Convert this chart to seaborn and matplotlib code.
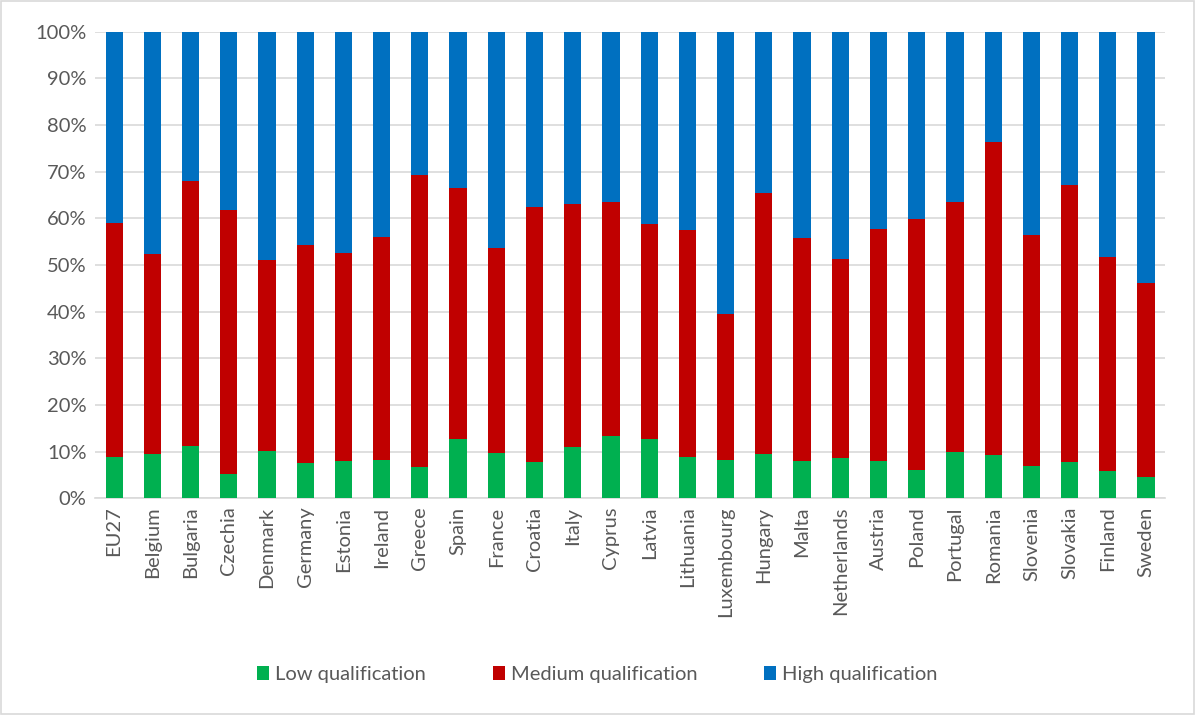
import numpy as np
import pandas as pd
import matplotlib
matplotlib.use("Agg")
import matplotlib.pyplot as plt
import seaborn as sns
from matplotlib.patches import Patch, Rectangle

countries = ["EU27", "Belgium", "Bulgaria", "Czechia", "Denmark", "Germany", "Estonia",
             "Ireland", "Greece", "Spain", "France", "Croatia", "Italy", "Cyprus", "Latvia",
             "Lithuania", "Luxembourg", "Hungary", "Malta", "Netherlands", "Austria", "Poland",
             "Portugal", "Romania", "Slovenia", "Slovakia", "Finland", "Sweden"]
low = [8.9, 9.5, 11.3, 5.3, 10.2, 7.6, 8.0, 8.3, 6.7, 12.7, 9.7, 7.8, 11.0, 13.4, 12.7,
       8.9, 8.2, 9.6, 8.0, 8.6, 8.0, 6.0, 9.9, 9.3, 7.0, 7.7, 5.9, 4.5]
medium = [50.2, 42.8, 56.8, 56.5, 40.9, 46.7, 44.5, 47.6, 62.6, 53.7, 43.9, 54.6, 52.1, 50.0, 46.1,
          48.7, 31.4, 55.8, 47.8, 42.7, 49.8, 53.9, 53.6, 67.1, 49.4, 59.4, 45.9, 41.7]
high = [100 - a - b for a, b in zip(low, medium)]

series_names = ["Low qualification", "Medium qualification", "High qualification"]
colors = ["#00B050", "#C00000", "#0070C0"]

df = pd.DataFrame({"country": countries, "low": low, "medium": medium, "high": high})
df["cum_med"] = df["low"] + df["medium"]
df["cum_high"] = df["cum_med"] + df["high"]

sns.set_theme(style="white")
plt.rcParams["font.family"] = ["Lato", "DejaVu Sans"]

fig = plt.figure(figsize=(11.95, 7.15), dpi=100)
ax = fig.add_axes([0.0795, 0.303, 0.8955, 0.6527])

w = 0.45
sns.barplot(data=df, x="country", y="cum_high", color=colors[2], width=w, ax=ax,
            saturation=1, edgecolor="none", zorder=3)
sns.barplot(data=df, x="country", y="cum_med", color=colors[1], width=w, ax=ax,
            saturation=1, edgecolor="none", zorder=3)
sns.barplot(data=df, x="country", y="low", color=colors[0], width=w, ax=ax,
            saturation=1, edgecolor="none", zorder=3)

ax.set_xlim(-0.5, len(countries) - 0.5)
ax.set_ylim(0, 100)
ax.set_yticks(np.arange(0, 101, 10))
ax.set_yticklabels([f"{v}%" for v in range(0, 101, 10)], color="#595959", fontsize=14.5)
ax.set_xticks(range(len(countries)))
ax.set_xticklabels(countries, rotation=90, color="#595959", fontsize=14.5)
ax.tick_params(axis="both", length=0, pad=6)
ax.set_xlabel("")
ax.set_ylabel("")
ax.yaxis.grid(True, color="#D9D9D9", linewidth=1.2, zorder=0)
ax.set_axisbelow(True)
for s in ["top", "right", "left"]:
    ax.spines[s].set_visible(False)
ax.spines["bottom"].set_color("#D9D9D9")
ax.spines["bottom"].set_linewidth(1.2)

handles = [Patch(facecolor=c, edgecolor="none", label=n) for c, n in zip(colors, series_names)]
fig.legend(handles=handles, loc="center", bbox_to_anchor=(0.5, 0.057), ncol=3, frameon=False,
           fontsize=14.5, handlelength=0.6, handleheight=0.7, handletextpad=0.3,
           columnspacing=3.3, labelcolor="#595959")

fig.patches.append(Rectangle((0.001, 0.001), 0.998, 0.998, transform=fig.transFigure,
                             fill=False, edgecolor="#D9D9D9", linewidth=1.2))

fig.savefig("out.png", dpi=100)
